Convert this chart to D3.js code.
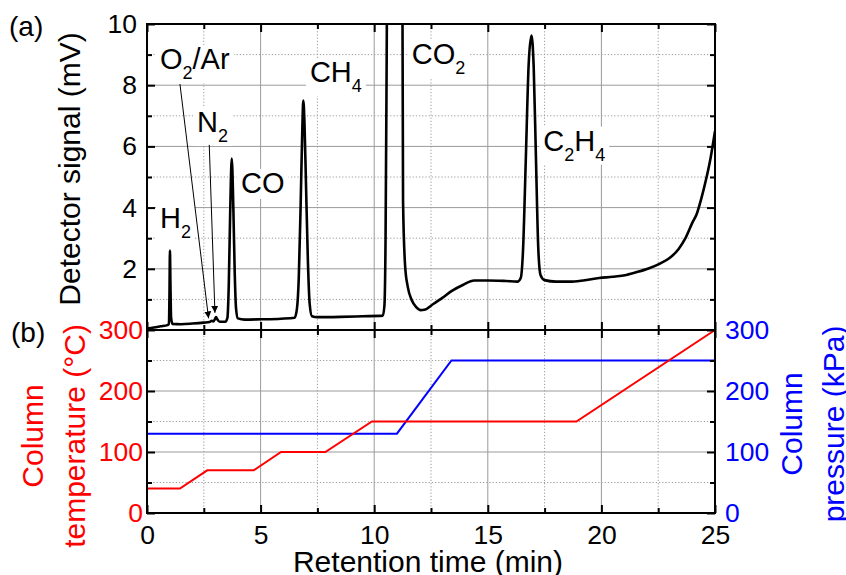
<!DOCTYPE html>
<html>
<head>
<meta charset="utf-8">
<script src="https://cdn.jsdelivr.net/npm/d3@7"></script>
<style>
  body { margin: 0; background: #fff; }
  svg text { font-family: "Liberation Sans", Arial, sans-serif; }
</style>
</head>
<body>
<svg id="chart" width="846" height="575"></svg>
<script>
'use strict';

// detector signal, [retention time (min), signal (mV)]
const chromatogram = [
    [0.0, 0.05], [0.3, 0.08], [0.6, 0.12], [0.9, 0.16], [0.96, 0.2], [0.99, 1.2], [1.01, 2.6],
    [1.03, 1.6], [1.06, 0.4], [1.12, 0.2], [1.5, 0.19], [2.0, 0.21], [2.5, 0.24], [2.75, 0.26],
    [2.85, 0.3], [2.92, 0.28], [2.98, 0.34], [3.04, 0.42], [3.1, 0.34], [3.2, 0.27], [3.45, 0.27],
    [3.54, 0.4], [3.6, 1.5], [3.66, 3.8], [3.73, 5.6], [3.8, 4.0], [3.86, 1.9], [3.92, 0.7],
    [4.0, 0.38], [4.3, 0.34], [5.0, 0.35], [5.9, 0.37], [6.5, 0.4], [6.6, 0.7], [6.68, 1.7],
    [6.76, 4.0], [6.84, 6.7], [6.88, 7.5], [6.93, 6.8], [7.0, 4.7], [7.08, 2.3], [7.16, 0.85],
    [7.26, 0.45], [7.5, 0.42], [8.5, 0.43], [9.5, 0.45], [10.38, 0.47], [10.45, 0.8], [10.5, 3],
    [10.55, 9], [10.6, 16], [11.22, 16], [11.27, 4.2], [11.36, 2.1], [11.48, 1.4], [11.65, 0.98],
    [11.85, 0.75], [12.05, 0.65], [12.2, 0.66], [12.6, 0.85], [13.0, 1.05], [13.4, 1.27],
    [13.9, 1.47], [14.4, 1.62], [15.0, 1.62], [15.8, 1.6], [16.3, 1.58], [16.45, 1.7], [16.55, 2.6],
    [16.67, 5.5], [16.8, 8.7], [16.92, 9.62], [17.02, 8.6], [17.12, 5.6], [17.22, 2.7], [17.32, 1.8],
    [17.5, 1.63], [18.0, 1.58], [18.6, 1.58], [19.2, 1.62], [19.9, 1.7], [20.5, 1.74], [21.1, 1.8],
    [21.6, 1.9], [22.1, 2.02], [22.6, 2.18], [23.0, 2.35], [23.4, 2.65], [23.7, 3.0], [24.0, 3.5],
    [24.2, 3.8], [24.4, 4.3], [24.6, 4.9], [24.8, 5.6], [25.0, 6.5]
];

// oven program
const tempTime = [0, 1.45, 2.65, 4.7, 5.9, 7.85, 9.9, 18.9, 25];
const tempValue = [40, 40, 70, 70, 100, 100, 150, 150, 300];
const pressTime = [0, 11, 13.4, 25];
const pressValue = [130, 130, 250, 250];

const timeTicks = [0, 5, 10, 15, 20, 25];
const timeMinor = [2.5, 7.5, 12.5, 17.5, 22.5];
const signalTicks = [2, 4, 6, 8, 10];
const signalMinor = [1, 3, 5, 7, 9];
const tempTicks = [0, 100, 200, 300];
const pressTicks = [0, 100, 200, 300];
const bMinor = [50, 150, 250];

// peak names (anchor in data units of panel a), parts with sub=true are subscripts
const peakLabels = [
    {t: 0.57, v: 8.53, parts: [{s: 'O'}, {s: '2', sub: true}, {s: '/Ar'}]},
    {t: 2.2, v: 6.47, parts: [{s: 'N'}, {s: '2', sub: true}]},
    {t: 0.57, v: 3.33, parts: [{s: 'H'}, {s: '2', sub: true}]},
    {t: 4.14, v: 4.48, parts: [{s: 'CO'}]},
    {t: 7.17, v: 8.1, parts: [{s: 'CH'}, {s: '4', sub: true}]},
    {t: 11.65, v: 8.69, parts: [{s: 'CO'}, {s: '2', sub: true}]},
    {t: 17.44, v: 5.86, parts: [{s: 'C'}, {s: '2', sub: true}, {s: 'H'}, {s: '4', sub: true}]}
];
// arrows from labels to the small peaks: [from t, from v, to t, to v]
const peakArrows = [
    [1.45, 8.04, 2.71, 0.38],
    [2.74, 6.05, 2.99, 0.56]
];

const svg = d3.select('#chart');
svg.append('rect').attr('width', 846).attr('height', 575).attr('fill', '#fff');

const x = d3.scaleLinear().domain([0, 25]).range([147, 715]);
const ya = d3.scaleLinear().domain([0, 10]).range([330, 24]);
const yb = d3.scaleLinear().domain([0, 300]).range([513, 330]);
const left = x.range()[0], right = x.range()[1];

svg.append('defs').append('clipPath').attr('id', 'clipA')
    .append('rect')
    .attr('x', left).attr('y', ya(10))
    .attr('width', right - left).attr('height', ya(0) - ya(10));

svg.select('defs').append('marker')
    .attr('id', 'arrowHead')
    .attr('viewBox', '0 0 10 10')
    .attr('refX', 10).attr('refY', 5)
    .attr('markerUnits', 'userSpaceOnUse')
    .attr('markerWidth', 7).attr('markerHeight', 9)
    .attr('orient', 'auto')
    .append('path').attr('d', 'M0,0L10,5L0,10Z').attr('fill', '#000');

// ---- grid
function drawGrid(yScale, yMajor, yMinor) {
    let g = svg.append('g').attr('class', 'grid');
    let [y0, y1] = yScale.range();
    let line = function(values, dashed, vertical) {
        g.selectAll(null).data(values).enter().append('line')
            .attr('x1', d => vertical ? x(d) : left)
            .attr('x2', d => vertical ? x(d) : right)
            .attr('y1', d => vertical ? y0 : yScale(d))
            .attr('y2', d => vertical ? y1 : yScale(d))
            .attr('stroke', '#9a9a9a')
            .attr('stroke-width', 1)
            .attr('stroke-dasharray', dashed ? '1.2,2' : null);
    };
    line(timeTicks.slice(1, -1), false, true);
    line(timeMinor, true, true);
    line(yMajor, false, false);
    line(yMinor, true, false);
}
drawGrid(ya, [2, 4, 6, 8], signalMinor);
drawGrid(yb, [100, 200], bMinor);

// ---- peak labels with white boxes
let labelG = svg.append('g');
peakLabels.forEach(function(d) {
    let text = labelG.append('text')
        .attr('x', x(d.t)).attr('y', ya(d.v))
        .attr('font-size', 29).attr('fill', '#000');
    let shifted = false;
    d.parts.forEach(function(p) {
        let ts = text.append('tspan').text(p.s);
        if (p.sub) {
            ts.attr('font-size', 18).attr('dy', shifted ? 0 : 10);
            shifted = true;
        } else if (shifted) {
            ts.attr('dy', -10);
            shifted = false;
        }
    });
    let bb = text.node().getBBox();
    labelG.insert('rect', function() { return text.node(); })
        .attr('x', bb.x - 4).attr('y', bb.y + 2)
        .attr('width', bb.width + 8).attr('height', bb.height - 2)
        .attr('fill', '#fff');
});

svg.append('g').selectAll('line').data(peakArrows).enter().append('line')
    .attr('x1', d => x(d[0])).attr('y1', d => ya(d[1]))
    .attr('x2', d => x(d[2])).attr('y2', d => ya(d[3]))
    .attr('stroke', '#000').attr('stroke-width', 1)
    .attr('marker-end', 'url(#arrowHead)');

// ---- curves
svg.append('path')
    .datum(chromatogram)
    .attr('clip-path', 'url(#clipA)')
    .attr('fill', 'none')
    .attr('stroke', '#000')
    .attr('stroke-width', 2.6)
    .attr('stroke-linejoin', 'round')
    .attr('d', d3.line().x(d => x(d[0])).y(d => ya(d[1])).curve(d3.curveMonotoneX));

svg.append('path')
    .datum(d3.zip(pressTime, pressValue))
    .attr('fill', 'none').attr('stroke', '#0000ff').attr('stroke-width', 2)
    .attr('d', d3.line().x(d => x(d[0])).y(d => yb(d[1])));

svg.append('path')
    .datum(d3.zip(tempTime, tempValue))
    .attr('fill', 'none').attr('stroke', '#ff0000').attr('stroke-width', 2)
    .attr('d', d3.line().x(d => x(d[0])).y(d => yb(d[1])));

// ---- frames and ticks
[ya, yb].forEach(function(s) {
    svg.append('rect')
        .attr('x', left).attr('y', s.range()[1])
        .attr('width', right - left).attr('height', s.range()[0] - s.range()[1])
        .attr('fill', 'none').attr('stroke', '#000').attr('stroke-width', 2);
});

function tickAxis(axis, tx, ty, values, size, labelled, color, pad, fontSize) {
    let g = svg.append('g')
        .attr('transform', `translate(${tx},${ty})`)
        .call(axis.tickValues(values).tickSize(-size).tickSizeOuter(0)
            .tickPadding(pad || 3)
            .tickFormat(labelled ? d3.format('d') : ''));
    g.select('.domain').remove();
    g.selectAll('.tick line').attr('stroke', '#000').attr('stroke-width', 2);
    g.selectAll('.tick text')
        .attr('fill', color || '#000')
        .attr('font-size', fontSize || 26.5)
        .attr('font-family', '"Liberation Sans", Arial, sans-serif');
    return g;
}

let yTop = ya.range()[1], yMid = ya.range()[0], yBot = yb.range()[0];
// time axis ticks on every horizontal frame edge
[[d3.axisTop, yTop], [d3.axisBottom, yMid], [d3.axisTop, yMid]].forEach(function(a) {
    tickAxis(a[0](x), 0, a[1], timeTicks, 8, false);
    tickAxis(a[0](x), 0, a[1], timeMinor, 5, false);
});
tickAxis(d3.axisBottom(x), 0, yBot, timeTicks, 8, true, '#000', 12);
tickAxis(d3.axisBottom(x), 0, yBot, timeMinor, 5, false);

// panel (a)
tickAxis(d3.axisLeft(ya), left, 0, signalTicks, 8, true, '#000', 10);
tickAxis(d3.axisLeft(ya), left, 0, signalMinor, 5, false);
tickAxis(d3.axisRight(ya), right, 0, signalTicks, 8, false);
tickAxis(d3.axisRight(ya), right, 0, signalMinor, 5, false);

// panel (b)
tickAxis(d3.axisLeft(yb), left, 0, tempTicks, 8, true, '#ff0000', 4);
tickAxis(d3.axisLeft(yb), left, 0, bMinor, 5, false);
tickAxis(d3.axisRight(yb), right, 0, pressTicks, 8, true, '#0000ff', 10);
tickAxis(d3.axisRight(yb), right, 0, bMinor, 5, false);

// ---- titles
function rotatedText(lines, cx, cy, color) {
    let g = svg.append('g').attr('transform', `translate(${cx},${cy}) rotate(-90)`);
    lines.forEach(function(l) {
        g.append('text')
            .attr('x', 0).attr('y', l.dx)
            .attr('text-anchor', 'middle')
            .attr('font-size', 30)
            .attr('fill', color)
            .text(l.s);
    });
}
rotatedText([{s: 'Detector signal (mV)', dx: 0}], 80, 169, '#000');
rotatedText([{s: 'Column', dx: 0}, {s: 'temperature (°C)', dx: 42}], 43, 436, '#ff0000');
rotatedText([{s: 'Column', dx: 0}, {s: 'pressure (kPa)', dx: 42}], 802, 424, '#0000ff');

svg.append('text')
    .attr('x', (left + right) / 2 - 3).attr('y', 572)
    .attr('text-anchor', 'middle').attr('font-size', 30)
    .text('Retention time (min)');

svg.append('text').attr('x', 9).attr('y', 36).attr('font-size', 28).text('(a)');
svg.append('text').attr('x', 11).attr('y', 342).attr('font-size', 28).text('(b)');
</script>
</body>
</html>
